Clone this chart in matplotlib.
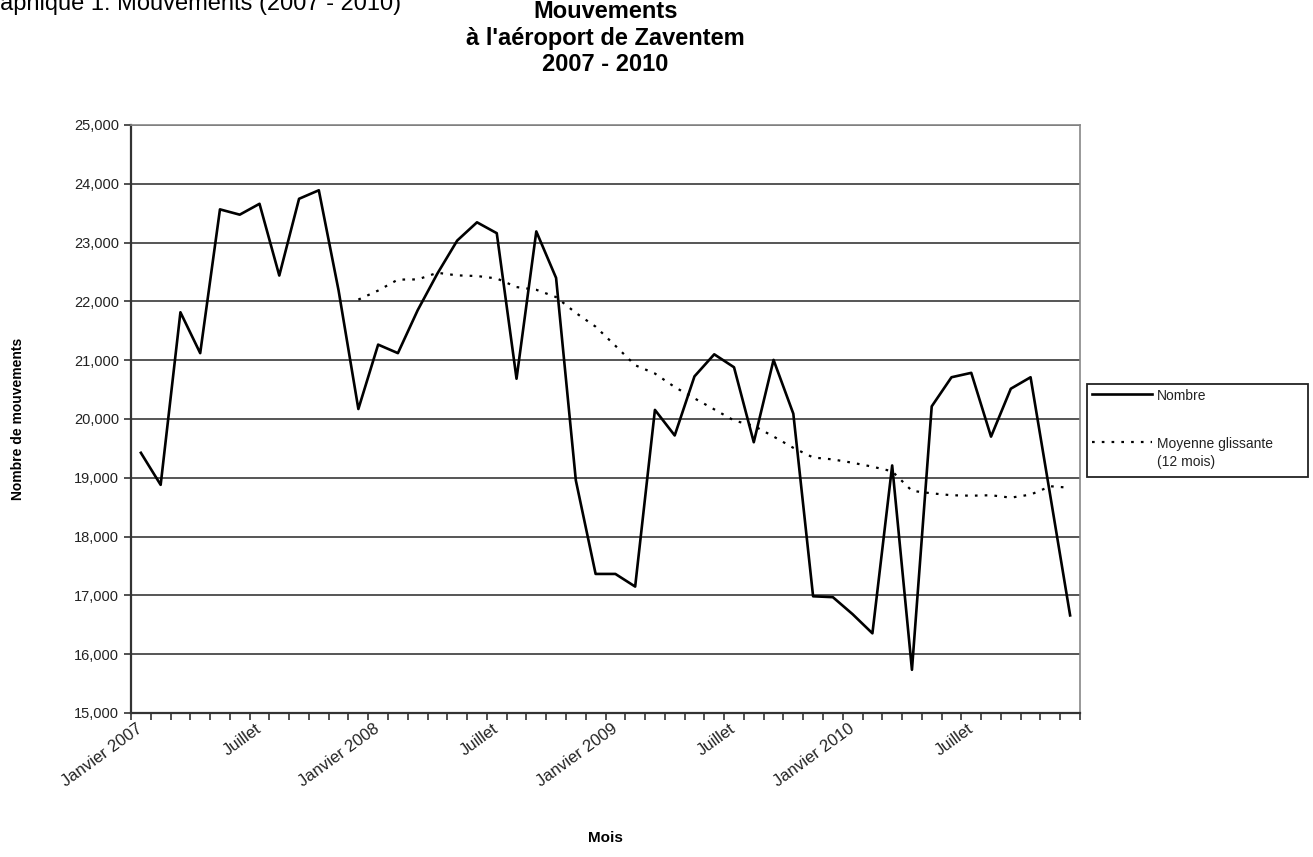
import numpy as np
import pandas as pd
import matplotlib
matplotlib.use('Agg')
import matplotlib.pyplot as plt
from matplotlib.ticker import FuncFormatter, FixedLocator
from matplotlib.patches import Rectangle
from matplotlib.lines import Line2D

plt.rcParams['font.family'] = ['Liberation Sans', 'DejaVu Sans']

# mouvements mensuels, janvier 2007 -> décembre 2010
mois = pd.date_range('2007-01-01', '2010-12-01', freq='MS')
nombre = [19425, 18880, 21815, 21120, 23565, 23475, 23660, 22440, 23745, 23890, 22185, 20170,
          21265, 21120, 21850, 22475, 23035, 23345, 23160, 20685, 23190, 22400, 18955, 17365,
          17365, 17150, 20155, 19720, 20725, 21100, 20880, 19605, 21005, 20090, 16985, 16970,
          16680, 16355, 19210, 15735, 20215, 20710, 20785, 19700, 20515, 20710, 18690, 16660]

etiquettes = ['Janvier 2007', 'Juillet', 'Janvier 2008', 'Juillet',
              'Janvier 2009', 'Juillet', 'Janvier 2010', 'Juillet']

serie = pd.Series(nombre, index=mois)
moyenne = serie.rolling(12).mean()  # moyenne glissante sur 12 mois

W, H = 1313, 857
fig = plt.figure(figsize=(W / 100, H / 100), dpi=100)
ax = fig.add_axes([131 / W, 1 - 713 / H, (1080 - 131) / W, (713 - 125) / H])

pointille = (0, (1.2, 3.2))
x = np.arange(len(mois))
ax.plot(x, serie.values, color='black', lw=1.9, zorder=3)
ax.plot(x, moyenne.values, color='black', lw=1.6, linestyle=pointille, zorder=3)

ax.set_xlim(-0.5, len(mois) - 0.5)
ax.set_ylim(15000, 25000)
ax.set_yticks(np.arange(15000, 25001, 1000))
ax.yaxis.set_major_formatter(FuncFormatter(lambda v, p: f'{int(v):,}'))
ax.grid(axis='y', color='#555555', lw=1.4)
ax.set_axisbelow(True)

# une étiquette tous les 6 mois, une graduation entre chaque mois
ax.xaxis.set_major_locator(FixedLocator(np.arange(0, 48, 6)))
ax.set_xticklabels(etiquettes, rotation=36, ha='right', va='center', rotation_mode='anchor')
ax.xaxis.set_minor_locator(FixedLocator(np.arange(-0.5, 48, 1)))
ax.tick_params(axis='x', which='major', length=0, pad=10, labelsize=12, labelcolor='#222222')
ax.tick_params(axis='x', which='minor', length=5, width=1.2, color='#333333')
ax.tick_params(axis='y', length=5, width=1.2, color='#333333', labelsize=10.5, labelcolor='#222222')

for s in ['left', 'bottom']:
    ax.spines[s].set_color('#333333')
    ax.spines[s].set_linewidth(1.6)
for s in ['right', 'top']:
    ax.spines[s].set_color('#888888')
    ax.spines[s].set_linewidth(1.2)

ax.set_xlabel('Mois', fontsize=11, fontweight='bold')
ax.xaxis.set_label_coords(0.5, -(838 - 713) / 588)
ax.xaxis.label.set_va('center')
ax.set_ylabel('Nombre de mouvements', fontsize=10, fontweight='bold')
ax.yaxis.set_label_coords(-(131 - 18) / 949, 0.5)
ax.yaxis.label.set_va('center')

fig.text(605.5 / W, 1, "Mouvements\nà l'aéroport de Zaventem\n2007 - 2010",
         ha='center', va='top', fontsize=17, fontweight='bold', linespacing=1.2)
fig.text(-26 / W, 1 - 10 / H, 'Graphique 1: Mouvements (2007 - 2010)',
         ha='left', va='baseline', fontsize=17)

# légende à droite du graphique
fig.add_artist(Rectangle((1087 / W, 1 - 477 / H), 221 / W, 93 / H, fill=False,
                         ec='#222222', lw=1.3, transform=fig.transFigure))
fig.add_artist(Line2D([1092 / W, 1152 / W], [1 - 394 / H] * 2, color='black', lw=1.9))
fig.text(1157 / W, 1 - 396 / H, 'Nombre', va='center', fontsize=10, color='#222222')
fig.add_artist(Line2D([1092 / W, 1152 / W], [1 - 442 / H] * 2, color='black', lw=1.6,
                      linestyle=pointille))
fig.text(1157 / W, 1 - 453 / H, 'Moyenne glissante\n(12 mois)', va='center', fontsize=10,
         linespacing=1.35, color='#222222')

fig.savefig('out.png', dpi=100)
